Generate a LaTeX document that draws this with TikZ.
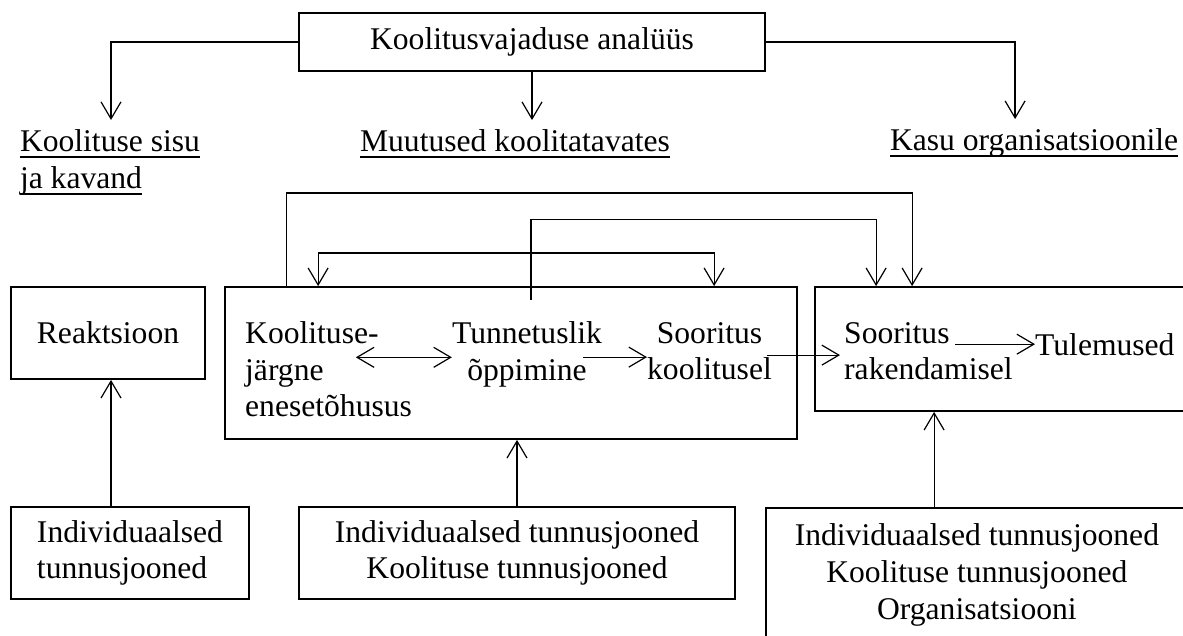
\documentclass[tikz,border=0pt]{standalone}
\usepackage{fontspec}
\setmainfont{Liberation Serif}
\usetikzlibrary{arrows.meta}
\newcommand{\uln}[1]{\setbox0\hbox{#1}\rlap{\rule[-6pt]{\wd0}{2pt}}\box0}

\begin{document}
\begin{tikzpicture}[x=1pt, y=-1pt,
        font=\fontsize{31.6}{36.6}\selectfont,
        box/.style={draw, line width=1.8pt, inner sep=0pt},
        txt/.style={inner sep=0pt},
        lbl/.style={inner sep=0pt, outer xsep=0pt, outer ysep=10pt},
        conn/.style={line width=1.2pt, -{Straight Barb[length=17pt, width=20pt]}},
        both/.style={line width=1.2pt, {Straight Barb[length=17pt, width=20pt]}-{Straight Barb[length=17pt, width=20pt]}}
        ]
    \useasboundingbox (0,0) rectangle (1183,636);

    \node[box, minimum width=466pt, minimum height=58pt] (vajadus) at (532,42) {Koolitusvajaduse analüüs};
    \node[lbl, anchor=north west, align=left] (sisu) at (20,120) {\uln{Koolituse sisu}\\\uln{ja kavand}};
    \node[lbl, anchor=base] (muutused) at (515,152) {\uln{Muutused koolitatavates}};
    \node[lbl, anchor=base west] (kasu) at (890,151) {\uln{Kasu organisatsioonile}};

    \node[box, minimum width=194pt, minimum height=92pt] (reakt) at (108,333) {Reaktsioon};
    \node[box, minimum width=572pt, minimum height=152pt] (lern) at (511,363) {};
    \node[box, minimum width=380pt, minimum height=124pt] (rakend) at (1005,349) {};

    \node[txt, anchor=north west, align=left] (enese) at (245,321.5) {Koolituse-\\järgne\\enesetõhusus};
    \node[txt, anchor=north, align=center] (tunnet) at (527,321.5) {Tunnetuslik\\õppimine};
    \node[txt, anchor=north, align=center] (sookool) at (709.5,322) {Sooritus\\koolitusel};
    \node[txt, anchor=north west, align=left] (soorak) at (844,322) {Sooritus\\rakendamisel};
    \node[txt, anchor=base west] (tulem) at (1035,355) {Tulemused};

    \node[box, minimum width=238pt, minimum height=92pt, align=left] (indiv) at (130,553) {Individuaalsed\\tunnusjooned};
    \node[box, minimum width=436pt, minimum height=92pt, align=center] (indkool) at (517,553) {Individuaalsed tunnusjooned\\Koolituse tunnusjooned};
    \node[box, minimum width=422pt, minimum height=134pt, anchor=north west, align=center] (indorg) at (765,507) {Individuaalsed tunnusjooned\\Koolituse tunnusjooned\\Organisatsiooni};

    \draw[conn] (vajadus.west) -| ([xshift=91pt]sisu.north west);
    \draw[conn] (vajadus.south) -- (vajadus.south |- muutused.north);
    \draw[conn] (vajadus.east) -| ([xshift=-19pt]kasu.north);

    \draw[conn] ([xshift=62pt]lern.north west) -- ++(0,-93) -| ([xshift=98pt]rakend.north west);
    \draw[conn] ([xshift=4pt, yshift=21pt]tunnet.north) -- ++(0,-81) -| ([xshift=62pt]rakend.north west);
    \draw[both] ([xshift=94pt]lern.north west) -- ++(0,-33) -| ([xshift=490pt]lern.north west);

    \draw[both] ([yshift=-3pt]tunnet.west) -- ++(-96,0);
    \draw[conn] ([xshift=-64pt, yshift=-6pt]sookool.west) -- ([yshift=-6pt]sookool.west);
    \draw[conn] ([xshift=-5pt, yshift=-4pt]sookool.east) -- ([xshift=-4pt, yshift=-4pt]soorak.west);
    \draw[conn] ([xshift=-80pt]tulem.west) -- (tulem.west);

    \coordinate (reakin) at ([xshift=3pt]reakt.south);
    \coordinate (rakin) at ([xshift=120pt]rakend.south west);
    \draw[conn] (indiv.north -| reakin) -- (reakin);
    \draw[conn] (indkool.north) -- (indkool.north |- lern.south);
    \draw[conn] (indorg.north -| rakin) -- (rakin);
\end{tikzpicture}
\end{document}
